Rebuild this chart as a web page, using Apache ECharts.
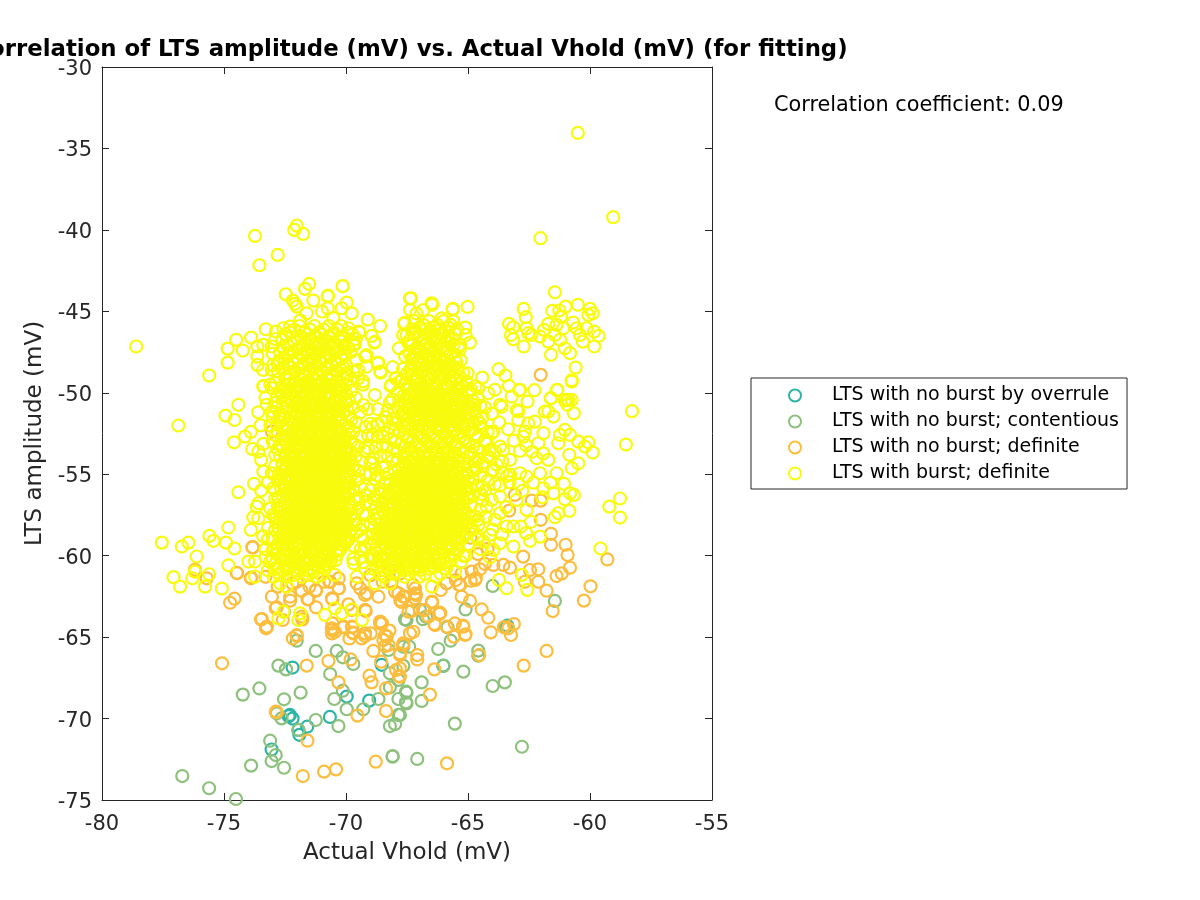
<!DOCTYPE html>
<html><head><meta charset="utf-8">
<style>html,body{margin:0;padding:0;background:#fff}#c{width:1200px;height:900px}</style>
<script src="https://cdn.jsdelivr.net/npm/echarts@6/dist/echarts.min.js"></script>
</head><body><div id="c"></div>
<script>
const seriesNames = ['LTS with no burst by overrule','LTS with no burst; contentious','LTS with no burst; definite','LTS with burst; definite'];
const overrule = [[-72.19,-66.87],[-72.3,-69.78],[-72.19,-70],[-71.59,-70.5],[-71.95,-70.7],[-71.91,-71],[-73.05,-71.9],[-70.66,-69.9],[-69.97,-68.65],[-69.05,-68.9],[-68.54,-66.7],[-66.01,-66.75],[-63.39,-64.3],[-72.35,-69.85]];
const contentious = [[-72.54,-63.44],[-72.02,-65.22],[-71.24,-65.85],[-72.77,-66.75],[-72.46,-66.98],[-70.38,-65.85],[-70.13,-66.24],[-69.7,-66.65],[-70.65,-67.27],[-71.86,-68.41],[-72.54,-68.82],[-73.55,-68.15],[-74.23,-68.53],[-70.13,-68.29],[-70.48,-68.8],[-69.97,-69.43],[-69.29,-69.43],[-68.67,-68.8],[-71.24,-70.09],[-70.31,-70.46],[-72.84,-69.68],[-72.64,-69.99],[-71.95,-70.7],[-73.11,-71.36],[-72.88,-72.24],[-73.05,-72.61],[-72.54,-73.02],[-73.89,-72.89],[-76.71,-73.53],[-75.61,-74.28],[-74.51,-74.94],[-68.09,-72.3],[-68.09,-72.34],[-68.2,-70.46],[-67.99,-70.34],[-67.85,-69.78],[-67.85,-68.8],[-67.54,-69],[-67.54,-68.35],[-67.65,-66.77],[-68.2,-67.22],[-67.85,-67.63],[-68.2,-68.08],[-68.26,-65.79],[-67.65,-65.59],[-67.58,-63.91],[-67.52,-63.95],[-66.97,-63.34],[-66.72,-63.75],[-65.84,-64.4],[-65.1,-63.3],[-65.71,-65.22],[-66.22,-65.73],[-64.58,-65.83],[-64.58,-66.14],[-66.01,-66.77],[-65.19,-67.12],[-63.99,-68],[-63.49,-67.78],[-66.9,-67.78],[-67.52,-68.41],[-66.9,-68.92],[-67.52,-69.07],[-67.79,-69.78],[-65.54,-70.31],[-62.79,-71.73],[-67.08,-72.48],[-63.99,-61.86],[-61.44,-62.78],[-67.41,-65.59],[-66.85,-63.9],[-63.45,-64.35]];
const noBurst = [[-74.48,-61.05],[-74.46,-61.08],[-76.19,-60.92],[-73.82,-59.49],[-74.75,-62.89],[-74.57,-62.64],[-73.89,-61.35],[-73.04,-62.52],[-72.88,-63.23],[-73.48,-63.91],[-73.28,-64.46],[-73.25,-64.4],[-72.59,-63.95],[-72.29,-62.76],[-71.58,-62.68],[-71.23,-62.15],[-71.23,-63.17],[-71.82,-62.15],[-72.02,-61.6],[-70.56,-62.68],[-70.65,-61.6],[-70.29,-62.01],[-69.9,-62.99],[-69.77,-63.34],[-69.19,-63.4],[-71.79,-63.91],[-72.18,-65.08],[-72.02,-64.93],[-70.56,-64.16],[-70.56,-64.57],[-70.45,-64.67],[-70.11,-64.4],[-69.74,-64.4],[-69.74,-64.73],[-69.86,-65.08],[-69.36,-65.08],[-69.22,-64.93],[-68.99,-64.77],[-68.6,-64.05],[-68.6,-64.16],[-68.22,-64.6],[-68.33,-64.97],[-68.47,-65.18],[-68.26,-65.49],[-68.4,-65.55],[-68.88,-65.85],[-67.65,-65.38],[-67.79,-66],[-67.38,-64.77],[-75.08,-66.61],[-71.61,-66.75],[-70.72,-66.47],[-69.81,-66.37],[-68.56,-66.51],[-67.95,-67.02],[-67.83,-67.39],[-69.04,-67.37],[-68.95,-67.78],[-70.31,-67.78],[-68.36,-68.15],[-68.36,-69.54],[-69.53,-69.82],[-72.88,-69.58],[-72.84,-69.6],[-71.58,-71.36],[-68.78,-72.65],[-70.41,-73.12],[-70.9,-73.26],[-71.77,-73.53],[-67.85,-62.31],[-67.74,-62.83],[-68.67,-62.52],[-69.15,-62.31],[-69.42,-62.01],[-69.56,-61.7],[-68.13,-61.6],[-67.79,-61.09],[-68.2,-60.88],[-67.44,-63.44],[-61.6,-59.33],[-61,-59.33],[-60.92,-59.96],[-60.82,-60.74],[-59.29,-60.23],[-61.16,-61.09],[-61.37,-61.25],[-62.12,-60.84],[-62.46,-60.88],[-62.12,-61.6],[-62.67,-61.6],[-61.78,-62.15],[-59.98,-61.88],[-60.25,-62.76],[-61.53,-63.4],[-62.74,-60.06],[-63.28,-60.74],[-63.55,-60.57],[-63.96,-60.57],[-64.31,-60.51],[-64.51,-60.84],[-64.68,-61.39],[-64.89,-61.54],[-65.26,-61.09],[-65.36,-61.8],[-65.88,-61.7],[-66.12,-62.11],[-65.26,-62.52],[-64.92,-62.78],[-66.47,-62.89],[-67.13,-62.42],[-67.17,-62.01],[-67.65,-62.52],[-67.72,-62.83],[-64.44,-63.3],[-64.17,-63.81],[-64.07,-64.71],[-63.53,-64.4],[-63.12,-64.2],[-63.35,-64.46],[-63.24,-64.87],[-66.15,-63.5],[-66.18,-63.58],[-66.38,-64.2],[-65.54,-64.16],[-65.2,-64.3],[-65.1,-64.83],[-65.58,-64.97],[-66.77,-63.34],[-67.31,-63.4],[-67.24,-64.67],[-67.65,-65.49],[-67.08,-66.1],[-67.08,-66.37],[-66.38,-66.98],[-64.54,-66.1],[-61.78,-65.85],[-62.72,-66.75],[-66.56,-68.53],[-65.86,-72.75],[-67.79,-66.92],[-67.79,-67.43],[-67.79,-66.1],[-62.02,-57.8],[-62.02,-56.62],[-62.39,-56.62],[-61.6,-58.66],[-63.31,-57.23],[-63.08,-56.27],[-62.02,-48.9],[-73.45,-63.89],[-73.25,-64.36],[-72.84,-63.17],[-72.29,-62.52],[-71.81,-63.74],[-71.54,-62.68],[-71.24,-62.11],[-70.58,-62.62],[-70.31,-62],[-70.69,-61.6],[-69.22,-63.33],[-70.58,-64.46],[-70.58,-64.77],[-70.1,-64.36],[-69.76,-64.36],[-69.69,-64.77],[-69.22,-64.77],[-68.53,-64.15],[-68.4,-64.87],[-69.22,-62.41],[-67.99,-62.21],[-67.78,-62.72],[-67.58,-62.52],[-67.24,-61.8],[-67.17,-62.31],[-67.17,-62.62],[-66.48,-62.82],[-66.14,-63.54],[-65.32,-61.8],[-64.71,-61.49],[-64.85,-60.98],[-66.35,-64.26],[-65.87,-64.36],[-65.19,-64.36],[-65.12,-64.87],[-66.83,-63.34],[-66.62,-63.74],[-72.02,-64.87],[-73.04,-52.38],[-73.84,-59.48],[-73.9,-61.39],[-75.71,-61.39],[-76.19,-60.87],[-64.9,-58.9],[-64.6,-59.9],[-64.2,-59.6],[-68.5,-61.6],[-69,-61.2],[-70.3,-61.4],[-70.9,-61.6],[-71.5,-61.9],[-72.2,-61.7],[-72.8,-61.9],[-73.3,-61.3],[-65.5,-61.5]];
const burstEdge = [[-73.73,-40.37],[-72.02,-39.74],[-72.12,-40],[-71.76,-40.25],[-72.8,-41.54],[-73.55,-42.17],[-71.51,-43.32],[-71.68,-43.62],[-72.47,-43.95],[-72.18,-44.34],[-72.09,-44.54],[-72.02,-44.71],[-71.34,-44.34],[-70.75,-44.09],[-70.13,-43.46],[-69.97,-44.46],[-70.18,-44.81],[-69.77,-45.12],[-69.11,-45.51],[-68.6,-45.9],[-70.75,-44.81],[-70.99,-45.01],[-70.52,-45.42],[-71.61,-45.12],[-71.88,-45.57],[-72.29,-45.94],[-73.29,-46.1],[-73.89,-46.61],[-74.5,-46.75],[-74.85,-47.29],[-74.23,-47.41],[-74.85,-48.15],[-75.61,-48.94],[-78.6,-47.16],[-72.87,-46.24],[-72.57,-46.04],[-73.63,-47.16],[-73.63,-47.78],[-73.63,-48.29],[-73.39,-47.06],[-73.04,-47.16],[-73.04,-48.6],[-73.39,-49.58],[-69.9,-46.04],[-69.45,-46.3],[-68.95,-46.51],[-68.84,-46.92],[-69.63,-47.02],[-69.21,-47.78],[-68.7,-48.19],[-68.6,-48.7],[-68.09,-48.43],[-67.95,-49.1],[-68.15,-49.52],[-67.83,-47.27],[-67.62,-45.77],[-67.51,-46.45],[-67.38,-44.2],[-67.38,-44.91],[-59.05,-39.22],[-62.03,-40.51],[-61.44,-43.83],[-60.5,-34.05],[-67.34,-44.2],[-66.47,-44.6],[-65.62,-44.85],[-65.02,-44.73],[-62.72,-44.85],[-62.63,-45.36],[-63.32,-45.77],[-63.15,-45.98],[-63.24,-46.45],[-63.15,-46.71],[-62.72,-47.16],[-62.6,-46.04],[-62.53,-46.34],[-62.4,-46.45],[-62.05,-46.55],[-61.71,-45.77],[-61.89,-46.14],[-61.71,-46.86],[-61.55,-44.97],[-61.26,-44.95],[-61,-44.71],[-60.5,-44.6],[-60,-44.85],[-59.89,-45.12],[-60.07,-45.22],[-61.19,-45.32],[-61.37,-45.83],[-61.1,-46.04],[-60.69,-45.69],[-60.55,-46.04],[-60.14,-46.04],[-59.83,-46.24],[-59.65,-46.51],[-59.83,-47.16],[-60.41,-46.45],[-60.3,-46.86],[-61.44,-46.45],[-61.23,-46.75],[-61.03,-47.27],[-60.82,-47.57],[-61.6,-47.67],[-60.59,-48.45],[-60.75,-49.23],[-61.36,-49.84],[-61.6,-50.33],[-60.96,-50.44],[-60.75,-50.44],[-63.75,-48.55],[-63.47,-48.94],[-64.42,-49.07],[-63.32,-49.58],[-62.9,-49.84],[-62.28,-49.84],[-63.9,-49.82],[-62.56,-50.54],[-65.02,-48.8],[-64.58,-49.72],[-64.17,-50.03],[-64.96,-49.93],[-65.11,-46],[-65.1,-46.45],[-64.92,-46.92],[-65.33,-47.06],[-70.14,-43.45],[-70.74,-44.04],[-65.63,-44.88],[-69.47,-46.25],[-68.82,-46.87],[-69.7,-47.07],[-68.68,-48.15],[-68.58,-48.77],[-67.96,-49.12],[-68.17,-49.59],[-69.16,-47.68],[-69.57,-47.99],[-69.16,-48.4],[-69.29,-50.75],[-68.82,-50.14],[-67.59,-45.7],[-67.66,-46.46],[-67.38,-46.76],[-66.49,-44.51],[-67.11,-45.13],[-66.08,-45.43],[-66.83,-44.92],[-67.31,-47.89],[-67.31,-48.5],[-63.62,-50.86],[-63,-51.06],[-63.21,-50.24],[-64.03,-52.49],[-64.51,-51.88],[-76.87,-52.01],[-74.41,-50.74],[-74.94,-51.4],[-74.57,-51.67],[-73.9,-52.4],[-74.14,-52.69],[-74.59,-53.04],[-73.84,-53.45],[-73.39,-53.14],[-73.59,-53.61],[-73.48,-54.12],[-73.39,-54.84],[-73.04,-54.94],[-74.41,-56.11],[-73.77,-55.59],[-73.48,-56],[-72.98,-55.86],[-73.66,-56.99],[-73.8,-57.64],[-73.59,-57.7],[-73.9,-58.42],[-74.82,-58.27],[-75.6,-58.79],[-75.43,-59.09],[-74.92,-59.2],[-74.57,-59.56],[-77.55,-59.2],[-76.46,-59.2],[-76.73,-59.44],[-76.12,-60.05],[-74.82,-60.59],[-74,-60.36],[-73.73,-60.36],[-76.19,-60.98],[-76.3,-61.39],[-77.07,-61.32],[-76.8,-61.9],[-75.78,-61.9],[-75.61,-61.14],[-75.09,-62.02],[-73.59,-56.78],[-73.39,-49.62],[-73.04,-49.72],[-73.25,-50.74],[-73.04,-51.15],[-72.84,-50.23],[-58.28,-51.13],[-58.53,-53.18],[-58.77,-56.49],[-59.21,-56.99],[-58.77,-57.66],[-59.57,-59.56],[-60.75,-49.31],[-61.34,-49.82],[-61.61,-50.34],[-61.03,-50.48],[-60.89,-50.44],[-60.66,-51.26],[-60.93,-50.74],[-61.71,-51.15],[-61.85,-51.15],[-61.5,-51.46],[-62.26,-51.77],[-62.53,-51.87],[-62.94,-51.15],[-62.87,-49.82],[-63.69,-50.74],[-62.94,-51.67],[-61.03,-52.28],[-61.23,-52.59],[-60.82,-52.59],[-60.48,-53],[-60.07,-53.04],[-60.21,-53.3],[-59.89,-53.67],[-60.48,-54.33],[-60.75,-54.63],[-60.85,-53.81],[-61.3,-53.1],[-61.91,-52.48],[-62.87,-53.57],[-62.73,-52.69],[-62.67,-52.38],[-62.12,-53.1],[-62.19,-54.02],[-61.71,-54.12],[-61.37,-54.94],[-61.07,-55.59],[-61.5,-56.17],[-60.82,-56.17],[-60.66,-56.27],[-61.03,-56.54],[-60.85,-57.25],[-61.3,-57.39],[-61.44,-57.64],[-62.6,-57.19],[-64.24,-56.99],[-62.05,-58.83],[-62.46,-59.09],[-62.8,-61.18],[-63.73,-61.49],[-63.42,-62],[-62.57,-62.1],[-65.54,-60.97],[-63.96,-52.38],[-63.69,-53.3],[-63.55,-53.51],[-63.28,-54.12],[-63.96,-54.73],[-62.87,-54.94],[-62.6,-55.14],[-62.05,-54.94],[-61.91,-55.86],[-63.69,-56.37],[-64.03,-56.58],[-63.01,-56.58],[-63.69,-57.39],[-63.42,-58.21],[-64.1,-58.72],[-63.14,-58.21],[-63.14,-59.44],[-63.96,-59.65],[-63.69,-59.24],[-64.58,-58.11],[-64.37,-59.13],[-72.77,-63.85],[-72.56,-63.44],[-71.95,-63.95],[-71.88,-63.54],[-70.86,-63.64],[-70.45,-63.23],[-70.17,-63.54],[-69.76,-63.29],[-69.35,-63.95],[-69.22,-60.78],[-68.81,-61.7],[-69.56,-61.29],[-68.19,-61.7],[-67.51,-60.88],[-66.48,-61.9],[-65.53,-60.98],[-71.33,-60.98],[-70.65,-60.37],[-71.95,-61.08],[-73.73,-61.29],[-72.7,-61.7],[-72.43,-61.9],[-72.97,-61.29],[-72.15,-60.47],[-71.47,-60.27],[-70.92,-60.67],[-70.24,-59.65],[-69.69,-60.47],[-68.47,-60.88],[-67.92,-60.98],[-66.96,-60.88],[-66.14,-60.47]];
const leftLobeRows = [
[-45.9,-71.9,-71.3,-70.7,-70.2],[-46.3,-72.3,-71.7,-71.1,-70.5,-69.9],[-46.7,-72.6,-72,-71.5,-70.9,-70.3,-69.6],
[-47.1,-72.4,-71.8,-71.3,-70.7,-70.1],[-47.5,-72.7,-72.2,-71.6,-71.1,-70.4,-69.8],[-47.9,-72.5,-72,-71.4,-70.9,-70.2],
[-48.3,-73,-72.4,-71.7,-71.2,-70.6,-70],[-48.7,-72.8,-72.1,-71.5,-71,-70.4,-69.7],[-49.1,-72.5,-71.9,-71.4,-70.8,-70.1,-69.5],
[-49.5,-73.1,-72.3,-71.7,-71.2,-70.6,-70,-69.3],[-49.9,-72.7,-72.1,-71.5,-71,-70.4,-69.8],[-50.3,-72.4,-71.9,-71.4,-71.1,-70.7,-70.2,-69.6],
[-50.6,-72.9,-72.2,-71.7,-71.3,-70.9,-70.5,-70],[-50.9,-72.6,-72,-71.5,-71.2,-70.8,-70.3,-69.7],[-51.2,-72.3,-71.8,-71.4,-71,-70.6,-70.1,-69.4],
[-51.5,-73,-72.5,-72.1,-71.6,-71.2,-70.8,-70.4,-69.9],[-51.8,-72.7,-72.2,-71.8,-71.4,-71,-70.6,-70.2,-69.6],[-52.1,-72.4,-72,-71.6,-71.2,-70.8,-70.4,-69.9,-69.2],
[-52.4,-72.8,-72.2,-71.8,-71.4,-71,-70.6,-70.2,-69.7],[-52.7,-72.5,-72,-71.6,-71.2,-70.8,-70.4,-70,-69.4],[-53,-73,-72.3,-71.8,-71.4,-71,-70.6,-70.2,-69.8],
[-53.3,-72.6,-72.1,-71.6,-71.2,-70.8,-70.4,-70,-69.5],[-53.6,-72.3,-71.9,-71.4,-71,-70.6,-70.2,-69.8,-69.2],[-53.9,-72.7,-72.2,-71.7,-71.3,-70.9,-70.5,-70.1,-69.6],
[-54.2,-72.4,-72,-71.5,-71.1,-70.7,-70.3,-69.9,-69.4],[-54.5,-72.9,-72.2,-71.8,-71.4,-71,-70.6,-70.2,-69.7],[-54.8,-72.6,-72,-71.6,-71.2,-70.8,-70.4,-70,-69.5],
[-55.1,-72.4,-71.9,-71.5,-71.1,-70.7,-70.3,-69.8],[-55.4,-72.8,-72.2,-71.8,-71.4,-71,-70.6,-70.2,-69.6],[-55.7,-72.5,-72,-71.6,-71.2,-70.8,-70.4,-70],
[-56,-72.9,-72.3,-71.8,-71.4,-71,-70.6,-70.2,-69.7],[-56.3,-72.6,-72.1,-71.6,-71.2,-70.8,-70.4,-70],[-56.6,-72.3,-71.9,-71.4,-71,-70.6,-70.2,-69.6],
[-56.9,-72.8,-72.2,-71.8,-71.3,-70.9,-70.5,-70.1],[-57.2,-72.5,-72,-71.6,-71.2,-70.8,-70.4,-69.9],[-57.5,-73,-72.3,-71.8,-71.4,-71,-70.6,-70.2],
[-57.8,-72.7,-72.1,-71.6,-71.2,-70.8,-70.4,-70],[-58.1,-72.4,-71.9,-71.4,-71,-70.6,-70.1,-69.6],[-58.4,-72.9,-72.2,-71.7,-71.3,-70.9,-70.5,-70],
[-58.7,-72.6,-72,-71.5,-71.1,-70.7,-70.3],[-59,-73.2,-72.4,-71.8,-71.3,-70.9,-70.5,-69.9],[-59.3,-72.8,-72.2,-71.6,-71.1,-70.7,-70.2],
[-59.7,-73,-72.5,-71.9,-71.4,-70.9,-70.4],[-60.1,-73.3,-72.7,-72.2,-71.6,-71.1,-70.6],[-60.5,-72.9,-72.4,-71.9,-71.3,-70.8],
[-60.9,-73.2,-72.6,-72.1,-71.6],[-61.3,-72.4,-71.8,-71.2]];
const leftFillRows = [
[-46.12,-72.11,-71.48,-70.93,-70.36],[-46.53,-71.84,-71.23,-70.69,-70.12],[-46.94,-72.27,-71.62,-71.07,-70.48],[-47.34,-71.97,-71.44,-70.83,-70.26],[-47.72,-72.38,-71.76,-71.22,-70.61,-70.04],[-48.11,-72.16,-71.53,-71.03,-70.38],
[-48.52,-72.59,-71.91,-71.36,-70.81,-70.22],[-48.89,-72.31,-71.68,-71.13,-70.57,-69.92],[-49.28,-72.12,-71.59,-70.99,-70.33],[-49.67,-72.64,-71.87,-71.38,-70.78,-70.17],[-50.05,-72.26,-71.71,-71.24,-70.59,-70.02],[-50.44,-72.55,-72.03,-71.58,-71.02,-70.46,-69.88],
[-50.76,-72.37,-71.84,-71.44,-70.96,-70.61,-70.14],[-51.06,-72.14,-71.65,-71.33,-70.91,-70.47,-69.95],[-51.34,-72.72,-71.97,-71.53,-71.14,-70.73,-70.29],[-51.65,-72.36,-71.92,-71.49,-71.08,-70.68,-70.31,-69.78],[-51.96,-72.84,-72.13,-71.73,-71.31,-70.94,-70.53,-70.07],[-52.25,-72.56,-71.91,-71.52,-71.09,-70.67,-70.26],
[-52.55,-72.34,-71.94,-71.53,-71.13,-70.72,-70.33,-69.88],[-52.86,-72.63,-72.11,-71.68,-71.27,-70.87,-70.47,-70.11],[-53.14,-72.42,-71.96,-71.52,-71.08,-70.69,-70.28,-69.67],[-53.45,-72.81,-72.02,-71.54,-71.14,-70.73,-70.31,-69.93],[-53.76,-72.51,-72.08,-71.61,-71.12,-70.72,-70.36,-69.97],[-54.04,-72.33,-71.87,-71.44,-71.02,-70.62,-70.24,-69.82],
[-54.35,-72.61,-72.09,-71.66,-71.27,-70.84,-70.46,-70.05],[-54.66,-72.45,-71.93,-71.51,-71.09,-70.71,-70.31,-69.89],[-54.95,-72.76,-72.14,-71.72,-71.32,-70.93,-70.52,-70.13],[-55.24,-72.53,-72.04,-71.62,-71.23,-70.87,-70.44,-70.04],[-55.53,-72.33,-71.93,-71.49,-71.11,-70.74,-70.33,-69.86],[-55.84,-72.66,-72.15,-71.71,-71.31,-70.92,-70.51,-70.11],
[-56.14,-72.45,-71.96,-71.52,-71.13,-70.72,-70.31,-69.91],[-56.44,-72.78,-72.21,-71.72,-71.33,-70.93,-70.54,-70.13],[-56.74,-72.52,-72.03,-71.53,-71.14,-70.74,-70.34,-69.84],[-57.05,-72.36,-71.93,-71.47,-71.07,-70.67,-70.27],[-57.34,-72.71,-72.14,-71.69,-71.29,-70.93,-70.51,-70.08],[-57.64,-72.52,-71.97,-71.49,-71.11,-70.71,-70.32,-69.83],
[-57.95,-72.86,-72.24,-71.74,-71.33,-70.91,-70.52,-70.12],[-58.24,-72.58,-72.04,-71.55,-71.14,-70.74,-70.31],[-58.55,-72.34,-71.87,-71.39,-70.97,-70.58,-70.16],[-58.86,-72.71,-72.14,-71.62,-71.21,-70.81,-70.38],[-59.16,-72.48,-71.94,-71.43,-71.01,-70.58,-70.06],[-59.48,-72.62,-72.07,-71.53,-71.07,-70.62],
[-59.86,-72.81,-72.32,-71.78,-71.26,-70.72],[-60.28,-72.53,-72.04,-71.44,-70.96,-70.43],[-60.72,-72.82,-72.28,-71.73,-71.13]];
const leftExtraRows = [
[-46.42,-72.47,-71.56,-71.02,-70.58,-69.74],[-46.84,-72.12,-71.38,-70.76,-70.18],[-47.23,-72.54,-71.91,-71.19,-70.52,-69.93],[-47.62,-71.87,-71.33,-70.73,-70.14],[-48.02,-72.73,-72.21,-71.62,-71.11,-70.47],[-48.43,-72.27,-71.82,-71.28,-70.72,-70.12],[-48.81,-72.49,-71.77,-71.24,-70.66,-70.03],[-49.21,-72.36,-71.82,-71.27,-70.62,-69.82],[-49.58,-72.48,-71.96,-71.46,-70.88,-70.28],[-49.99,-72.43,-71.86,-71.33,-70.72,-70.18],[-50.19,-72.64,-72.08,-71.61,-70.88,-70.38],
[-57.13,-72.68,-72.11,-71.74,-71.33,-70.96,-70.62,-70.18],[-57.43,-72.41,-71.88,-71.51,-71.12,-70.74,-70.29],[-57.72,-72.88,-72.28,-71.82,-71.34,-70.94,-70.57,-70.14],[-58.03,-72.56,-72.07,-71.51,-71.14,-70.72,-70.33],[-58.32,-72.77,-71.98,-71.42,-71.03,-70.64,-70.21],[-58.62,-72.44,-71.79,-71.33,-70.86,-70.47,-70.06],[-58.93,-72.58,-72.21,-71.52,-71.07,-70.69,-70.24],[-59.24,-72.64,-72.03,-71.44,-70.93,-70.47],[-59.58,-72.94,-72.37,-71.74,-71.23,-70.76,-70.31],[-59.96,-72.54,-71.94,-71.36,-70.83,-70.38],[-60.38,-73.12,-72.24,-71.67,-71.16,-70.64],[-60.81,-72.92,-72.43,-71.88,-71.36,-70.87],[-61.18,-72.71,-72.13,-71.54,-71.02,-70.46]];
const leftCoreExtra = [[-72.9,-46.7],[-73,-47.6],[-72.8,-48.2],[-72.9,-49.4],[-72.9,-50.9],[-72.7,-51.5],[-73.1,-52],[-72.9,-52.6],[-72.7,-53.2],[-72.9,-53.8],[-72.6,-54.5],[-72.7,-55.2],[-72.5,-55.8],[-72.9,-56.5],[-72.7,-57],[-72.9,-57.6],[-73.2,-58.3],[-73,-58.9],[-73.3,-59.6],[-73,-60.2],[-73.4,-58.8],[-73.5,-52],[-73.6,-51.2],[-73.3,-50.3],[-73.4,-48.6],[-73.1,-57.1],[-73.2,-55.5],[-69.3,-49.3],[-69.5,-48.6],[-68.9,-52.1],[-68.7,-52.7],[-69.1,-53.4],[-68.9,-54],[-68.8,-54.7],[-69.5,-55.3],[-69.7,-55.9],[-69.8,-57],[-69.6,-57.8],[-69.8,-58.5],[-70,-59.2]];
const rightLobeRows = [
[-45.6,-67.2,-66.6,-66,-65.6],[-46,-67,-66.4,-65.8],[-46.4,-67.2,-66.7,-66.1,-65.5],[-46.8,-66.9,-66.4,-65.9],[-47.2,-67.1,-66.6,-66.1,-65.4],
[-47.6,-67.4,-66.8,-66.3,-65.7],[-48,-67,-66.5,-66,-65.3],[-48.4,-67.2,-66.7,-66.2,-65.6],[-48.8,-67.5,-66.9,-66.4,-65.8,-65.2],[-49.2,-67.7,-67.1,-66.6,-66.1,-65.5],
[-49.6,-67.4,-66.8,-66.3,-65.8,-65.2,-64.7],[-50,-67.9,-67.2,-66.7,-66.2,-65.6,-65],[-50.3,-67.5,-67,-66.5,-66,-65.4,-64.6],[-50.6,-68.2,-67.3,-66.8,-66.3,-65.8,-65.2],
[-50.9,-67.9,-67.1,-66.6,-66.1,-65.5,-64.9,-64.3],[-51.2,-67.6,-66.9,-66.4,-65.9,-65.3,-64.7],[-51.5,-68.4,-67.4,-66.7,-66.2,-65.7,-65.1,-64.4],[-51.8,-67.9,-67.2,-66.5,-66,-65.5,-64.8],
[-52.1,-68.2,-67.6,-66.9,-66.3,-65.8,-65.2,-64.5],[-52.4,-67.8,-67.2,-66.7,-66.1,-65.6,-65,-64.2],[-52.7,-68.5,-67.5,-66.9,-66.4,-65.9,-65.3,-64.6],[-53,-68,-67.3,-66.7,-66.2,-65.7,-65.1,-64.3],
[-53.3,-68.3,-67.6,-67,-66.5,-66,-65.5,-64.8],[-53.6,-67.9,-67.3,-66.8,-66.3,-65.8,-65.2,-64.5,-63.9],[-53.9,-68.6,-67.6,-67,-66.6,-66.1,-65.6,-65,-64.2],[-54.2,-68.1,-67.4,-66.9,-66.4,-65.9,-65.4,-64.7,-63.6],
[-54.5,-68.4,-67.7,-67.2,-66.7,-66.2,-65.7,-65.2,-64.4],[-54.8,-68,-67.5,-67,-66.5,-66,-65.5,-64.8,-64],[-55.1,-68.7,-67.8,-67.3,-66.8,-66.3,-65.8,-65.2,-64.5,-63.4],[-55.4,-68.2,-67.6,-67.1,-66.6,-66.1,-65.6,-65,-64.2],
[-55.7,-68.9,-68,-67.4,-66.9,-66.4,-65.9,-65.3,-64.6,-63.7],[-56,-68.4,-67.8,-67.2,-66.7,-66.2,-65.7,-65.1,-64.3],[-56.3,-69.2,-68.1,-67.5,-67,-66.5,-66,-65.4,-64.8],[-56.6,-68.7,-67.9,-67.3,-66.8,-66.3,-65.8,-65.2,-64.4],
[-56.9,-69,-68.3,-67.6,-67.1,-66.6,-66.1,-65.5,-64.9],[-57.2,-68.5,-67.9,-67.4,-66.9,-66.4,-65.9,-65.3,-64.5],[-57.5,-69.2,-68.2,-67.7,-67.2,-66.7,-66.2,-65.6,-65],[-57.8,-68.8,-68,-67.5,-67,-66.5,-66,-65.4,-64.6,-63.9],
[-58.1,-69,-68.4,-67.8,-67.3,-66.8,-66.3,-65.7,-65.1],[-58.4,-69.4,-68.6,-68.1,-67.6,-67.1,-66.6,-66.1,-65.5,-64.8,-64],[-58.7,-68.9,-68.3,-67.8,-67.3,-66.8,-66.3,-65.8,-65.1],[-59,-69.3,-68.7,-68.1,-67.6,-67.1,-66.6,-66,-65.4,-64.6],
[-59.3,-69,-68.4,-67.9,-67.4,-66.9,-66.3,-65.7,-65],[-59.6,-69.4,-68.8,-68.2,-67.7,-67.2,-66.6,-66.1,-65.4,-64.5],[-60,-69,-68.5,-67.9,-67.4,-66.9,-66.4,-65.8,-65.1],[-60.4,-69.3,-68.7,-68.2,-67.6,-67.1,-66.5,-65.9,-65.3],
[-60.8,-68.9,-68.3,-67.7,-67.2,-66.6,-65.9],[-61.3,-68.4,-67.6,-67,-66.3]];
const rightFillRows = [
[-45.83,-66.83,-66.27,-65.71],[-46.21,-67.14,-66.53,-65.94],[-46.62,-66.82,-66.23,-65.67],[-47.03,-67.28,-66.74,-66.19,-65.59],[-47.41,-66.96,-66.44,-65.87],[-47.82,-67.22,-66.67,-66.13,-65.52],[-48.21,-66.88,-66.34,-65.78],[-48.62,-67.38,-66.83,-66.29,-65.68],
[-49.01,-67.04,-66.51,-65.96,-65.33],[-49.41,-67.58,-66.97,-66.42,-65.92,-65.34],[-49.81,-67.16,-66.62,-66.07,-65.48,-64.88],[-50.16,-67.64,-67.11,-66.58,-66.12,-65.52],[-50.46,-67.81,-67.21,-66.71,-66.17,-65.66,-65.06],[-50.76,-67.58,-67.03,-66.52,-66,-65.46,-64.72],
[-51.06,-67.37,-66.82,-66.29,-65.72,-65.13],[-51.36,-67.74,-67.17,-66.62,-66.08,-65.52,-64.93],[-51.66,-67.56,-66.96,-66.37,-65.84,-65.31,-64.62],[-51.96,-67.41,-66.83,-66.24,-65.67,-65.03],[-52.25,-68,-67.37,-66.78,-66.2,-65.53,-64.82],[-52.55,-67.62,-67.03,-66.54,-65.97,-65.41,-64.71],
[-52.85,-68.17,-67.46,-66.82,-66.29,-65.78,-65.2],[-53.15,-67.76,-67.12,-66.58,-66.07,-65.49,-64.96],[-53.45,-68.06,-67.43,-66.92,-66.38,-65.86,-65.32,-64.64],[-53.74,-67.56,-67.06,-66.53,-66.02,-65.52,-64.89],[-54.05,-67.88,-67.24,-66.72,-66.23,-65.74,-65.17,-64.55],[-54.35,-67.57,-67.08,-66.62,-66.14,-65.62,-65.03],
[-54.65,-67.84,-67.36,-66.89,-66.42,-65.91,-65.38,-64.66],[-54.95,-68.27,-67.63,-67.14,-66.68,-66.17,-65.66,-65.04],[-55.25,-67.97,-67.46,-66.97,-66.48,-65.96,-65.42,-64.82],[-55.55,-68.42,-67.78,-67.27,-66.78,-66.26,-65.76,-65.18],[-55.85,-68.08,-67.57,-67.04,-66.57,-66.04,-65.48,-64.92],[-56.15,-68.62,-67.94,-67.38,-66.89,-66.37,-65.84,-65.27],
[-56.45,-68.37,-67.72,-67.18,-66.64,-66.13,-65.58,-64.97],[-56.75,-68.52,-68.06,-67.47,-66.94,-66.43,-65.94,-65.36],[-57.05,-68.76,-68.14,-67.52,-67.02,-66.52,-66.04,-65.42],[-57.35,-68.42,-67.87,-67.33,-66.82,-66.28,-65.74,-65.13],[-57.65,-68.62,-68.07,-67.61,-67.11,-66.61,-66.08,-65.52,-64.86],[-57.95,-68.33,-67.72,-67.23,-66.73,-66.17,-65.58,-64.94],
[-58.25,-68.84,-68.16,-67.68,-67.17,-66.68,-66.19,-65.6],[-58.55,-68.47,-67.94,-67.44,-66.94,-66.44,-65.92,-65.33],[-58.85,-68.62,-68.08,-67.53,-67.04,-66.51,-66.17,-65.52],[-59.15,-68.84,-68.24,-67.72,-67.19,-66.72,-66.21,-65.56],[-59.45,-68.56,-68.04,-67.56,-67.03,-66.48,-65.84],[-59.82,-68.72,-68.14,-67.63,-67.14,-66.66,-66.02],
[-60.21,-68.88,-68.33,-67.81,-67.24,-66.72,-66.16],[-60.62,-68.53,-67.98,-67.42,-66.82,-66.24]];
const rightExtraRows = [
[-46.11,-67.32,-66.73,-66.14,-65.46],[-46.55,-67.06,-66.48,-65.83],[-46.96,-67.44,-66.96,-66.31,-65.74],[-47.34,-67.13,-66.58,-66.02,-65.34],[-47.76,-67.58,-66.92,-66.42,-65.86],[-48.14,-67.11,-66.63,-66.08,-65.48],[-48.53,-67.66,-67.02,-66.48,-65.92,-65.41],[-48.94,-67.28,-66.72,-66.18,-65.62],[-49.33,-67.82,-67.22,-66.74,-66.22,-65.68,-65.06],[-49.72,-67.52,-67.02,-66.48,-65.95,-65.36],[-50.08,-67.38,-66.88,-66.39,-65.84,-65.27],[-50.54,-67.46,-66.94,-66.44,-65.93,-65.34],[-50.84,-67.74,-67.27,-66.74,-66.24,-65.64,-65.02],[-51.14,-68.02,-67.22,-66.68,-66.16,-65.58],[-51.58,-68.08,-67.12,-66.58,-66.06,-65.44],[-52.02,-67.72,-67.02,-66.62,-66.12,-65.62],
[-55.32,-67.82,-67.32,-66.84,-66.36,-65.84,-65.34],[-55.62,-68.2,-67.62,-67.13,-66.62,-66.12,-65.56],[-55.92,-68.62,-67.96,-67.42,-66.94,-66.44,-65.92,-65.38],[-56.22,-68.26,-67.71,-67.26,-66.74,-66.28,-65.66,-65.02],[-56.52,-68.88,-67.98,-67.52,-67.06,-66.56,-66.06,-65.48],[-56.82,-68.14,-67.74,-67.24,-66.74,-66.24,-65.68],[-57.12,-68.32,-67.83,-67.32,-66.78,-66.24,-65.76,-65.17],[-57.42,-68.72,-68.03,-67.52,-67.06,-66.54,-66.06,-65.46],[-57.72,-68.22,-67.76,-67.34,-66.84,-66.33,-65.82,-65.22],[-58.02,-68.62,-68.04,-67.56,-67.06,-66.56,-66.08,-65.44],[-58.32,-68.32,-67.84,-67.41,-66.96,-66.46,-65.94,-65.36],[-58.62,-68.72,-68.16,-67.68,-67.19,-66.64,-66.18,-65.62],[-58.92,-68.44,-67.92,-67.42,-66.92,-66.38,-65.82,-65.22],[-59.22,-68.52,-68.01,-67.56,-67.04,-66.52,-66.06,-65.43],[-59.52,-68.32,-67.84,-67.32,-66.86,-66.33,-65.72],[-59.92,-68.34,-67.76,-67.22,-66.72,-66.22,-65.62],[-60.32,-68.52,-68.04,-67.52,-66.94,-66.34,-65.72],[-60.72,-68.72,-68.12,-67.56,-67.02,-66.42],[-61.12,-68.62,-68.04,-67.42,-66.76,-66.12]];
const rightCoreExtra = [[-65.2,-50.3],[-64.8,-50.5],[-68.1,-50.4],[-64.5,-50.8],[-68.3,-51.1],[-68.5,-51.8],[-64.3,-52.9],[-68.3,-52.5],[-64.1,-53.5],[-68.5,-53.2],[-64.4,-54.3],[-68.3,-53.9],[-63.6,-54.9],[-68.5,-54.6],[-64.4,-55.8],[-63.9,-55.6],[-63.3,-55.5],[-68.8,-55.3],[-69,-56],[-64.9,-56.9],[-69.2,-56.7],[-64.7,-57.6],[-69.3,-57.4],[-64.9,-58.4],[-69.3,-58.1],[-65.7,-58.7],[-69.4,-58.8],[-65.4,-59.2],[-69.2,-59.5],[-69.4,-60.1],[-65.8,-60],[-65.2,-60],[-64.22,-53.12],[-64.08,-54.02],[-63.82,-54.42],[-64.46,-56.22],[-64.27,-57.62],[-64.6,-58.82],[-64.1,-60.1],[-63.6,-58.7],[-63.44,-57.02],[-63.28,-55.02],[-62.92,-55.62],[-62.78,-56.02],[-62.32,-55.52],[-62.84,-58.22],[-62.62,-58.62],[-62.42,-57.92],[-64.02,-51.28],[-63.72,-51.82],[-63.36,-52.24],[-63.12,-52.94],[-62.62,-53.22],[-62.38,-53.62],[-61.92,-53.72],[-61.62,-55.52],[-61.96,-56.42]];
const bridgeRows = [
[-51,-69.1,-68.7],[-51.9,-69,-68.7],[-52.6,-69.1,-68.9],[-53.4,-68.8],[-54.3,-69,-68.9],[-55,-69.2,-69],[-55.8,-69.4],[-56.5,-69.5],[-57.1,-69.5],[-57.8,-69.6],[-58.6,-69.6],[-59.4,-69.7],[-60.2,-69.7]];
const rowPoints = rows => rows.flatMap(r => r.slice(1).map(x => [x, r[0]]));
const burst = burstEdge.concat(leftCoreExtra, rightCoreExtra, rowPoints(leftLobeRows), rowPoints(leftFillRows), rowPoints(leftExtraRows), rowPoints(rightLobeRows), rowPoints(rightFillRows), rowPoints(rightExtraRows), rowPoints(bridgeRows));
const colors = ['#2cb5a6','#8dc17c','#fdbd3d','#f9fb0e'];
const values = [overrule, contentious, noBurst, burst];
const ink = '#262626';
const chart = echarts.init(document.getElementById('c'));
const frameAxis = {type:'value',axisLine:{onZero:false,lineStyle:{color:ink,width:1}},axisTick:{inside:true,length:7,lineStyle:{color:ink}},splitLine:{show:false}};
chart.setOption({
  animation:false, backgroundColor:'#fff',
  textStyle:{fontFamily:'DejaVu Sans'},
  title:[
    {text:'Correlation of LTS amplitude (mV) vs. Actual Vhold (mV) (for fitting)',left:405,top:34,textAlign:'center',textStyle:{fontFamily:'DejaVu Sans',fontSize:22.8,fontWeight:'bold',color:'#000'}},
    {text:'Correlation coefficient: 0.09',left:769,top:90,textStyle:{fontFamily:'DejaVu Sans',fontSize:20.8,fontWeight:'normal',color:'#000'}}
  ],
  grid:{left:102,top:67,width:610,height:733,containLabel:false},
  legend:{orient:'vertical',left:751,top:378,padding:[8,8,6,37],itemWidth:64,itemHeight:12,itemGap:7,borderColor:ink,borderWidth:1,selectedMode:false,
    textStyle:{fontFamily:'DejaVu Sans',fontSize:19,color:'#000'},data:seriesNames},
  xAxis:[
    Object.assign({},frameAxis,{min:-80,max:-55,interval:5,name:'Actual Vhold (mV)',nameLocation:'middle',nameGap:42,nameTextStyle:{fontSize:23,color:ink},axisLabel:{fontSize:21,color:ink,margin:14}}),
    Object.assign({},frameAxis,{position:'top',min:-80,max:-55,interval:5,axisLabel:{show:false}})
  ],
  yAxis:[
    Object.assign({},frameAxis,{min:-75,max:-30,interval:5,name:'LTS amplitude (mV)',nameLocation:'middle',nameGap:49,nameTextStyle:{fontSize:23,color:ink},axisLabel:{fontSize:21,color:ink,margin:10,verticalAlign:'top',lineHeight:5}}),
    Object.assign({},frameAxis,{position:'right',min:-75,max:-30,interval:5,axisLabel:{show:false}})
  ],
  series:seriesNames.map((name,i)=>({name,type:'scatter',data:values[i],symbol:'circle',symbolSize:12,clip:false,
    itemStyle:{color:'rgba(255,255,255,0)',borderColor:colors[i],borderWidth:2.2,opacity:1},emphasis:{disabled:true}}))
});
</script></body></html>
